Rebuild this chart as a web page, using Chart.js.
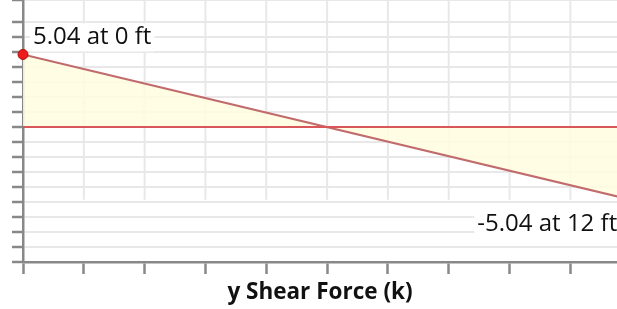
<!DOCTYPE html>
<html>
<head>
<meta charset="utf-8">
<script src="https://cdn.jsdelivr.net/npm/chart.js@4"></script>
<style>
  html, body { margin: 0; padding: 0; background: #fff; overflow: hidden; }
  #wrap { width: 617px; height: 309px; }
</style>
</head>
<body>
<div id="wrap"><canvas id="chart"></canvas></div>
<script>
// positions along the beam (ft) and shear values (k)
const positions = [0, 12];
const shear = [5.04, -5.04];
const endLabels = ['5.04 at 0 ft', '-5.04 at 12 ft'];
const xTickStep = 1.2;
const yTickStep = 1.04;

// vertical grid lines stop at the lowest shear value, plus the end labels
const shearExtras = {
  id: 'shearExtras',
  beforeDatasetsDraw(chart) {
    const { ctx, chartArea, scales } = chart;
    const yLow = scales.y.getPixelForValue(Math.min(...shear));
    ctx.save();
    ctx.strokeStyle = '#e8e8e8';
    ctx.lineWidth = 2;
    scales.x.ticks.forEach(t => {
      const px = scales.x.getPixelForValue(t.value);
      if (px <= chartArea.left + 1) return;
      ctx.beginPath();
      ctx.moveTo(px, chartArea.top);
      ctx.lineTo(px, yLow);
      ctx.stroke();
    });
    ctx.restore();
  },
  afterDraw(chart) {
    const { ctx, scales } = chart;
    ctx.save();
    ctx.font = '24px "Open Sans", sans-serif';
    ctx.textBaseline = 'middle';
    positions.forEach((p, i) => {
      const px = scales.x.getPixelForValue(p);
      const py = scales.y.getPixelForValue(shear[i]);
      const txt = endLabels[i];
      const w = ctx.measureText(txt).width;
      let x, y;
      if (i === 0) { x = px + 10; y = py - 17; }
      else { x = px - 14 - w; y = py + 24; }
      ctx.fillStyle = '#fff';
      ctx.fillRect(x - 3, y - 14, w + 6, 28);
      ctx.fillStyle = '#111';
      ctx.textAlign = 'left';
      ctx.fillText(txt, x, y);
    });
    ctx.restore();
  }
};

new Chart(document.getElementById('chart'), {
  type: 'scatter',
  data: {
    datasets: [
      {
        label: 'zero',
        data: positions.map(p => ({ x: p, y: 0 })),
        showLine: true,
        borderColor: '#d9575a',
        borderWidth: 2,
        pointRadius: 0,
        fill: false,
        order: 1
      },
      {
        label: 'shear',
        data: positions.map((p, i) => ({ x: p, y: shear[i] })),
        showLine: true,
        clip: false,
        borderColor: '#c26b6c',
        borderWidth: 2,
        backgroundColor: 'rgba(255,253,222,0.85)',
        fill: 'origin',
        pointRadius: [5, 0],
        pointBackgroundColor: '#ee1c1c',
        pointBorderColor: '#b01010',
        pointBorderWidth: 1,
        order: 2
      }
    ]
  },
  options: {
    responsive: true,
    maintainAspectRatio: false,
    animation: false,
    layout: { autoPadding: false, padding: { left: 12, top: 0, right: 0, bottom: 0 } },
    plugins: {
      legend: { display: false },
      tooltip: { enabled: false }
    },
    scales: {
      x: {
        type: 'linear',
        min: 0,
        max: 11.72,
        afterBuildTicks(scale) {
          const ticks = [];
          for (let v = 0; v <= scale.max + 1e-9; v = Math.round((v + xTickStep) * 100) / 100) ticks.push({ value: v });
          scale.ticks = ticks;
        },
        ticks: { display: false, stepSize: xTickStep },
        grid: {
          drawOnChartArea: false,
          drawTicks: true,
          tickLength: 12,
          tickWidth: 2.5,
          tickColor: '#888'
        },
        border: { color: '#888', width: 2.5 },
        title: {
          display: true,
          text: 'y Shear Force (k)',
          color: '#111',
          font: { family: '"Open Sans", sans-serif', size: 22.5, weight: 'bold' },
          padding: { top: 5, bottom: 3 }
        }
      },
      y: {
        min: -9.36,
        max: 8.82,
        ticks: { display: false, stepSize: yTickStep },
        grid: {
          color: '#e8e8e8',
          lineWidth: 2,
          drawTicks: true,
          tickLength: 11,
          tickWidth: 2.5,
          tickColor: '#888'
        },
        border: { color: '#888', width: 2.5 }
      }
    }
  },
  plugins: [shearExtras]
});
</script>
</body>
</html>
